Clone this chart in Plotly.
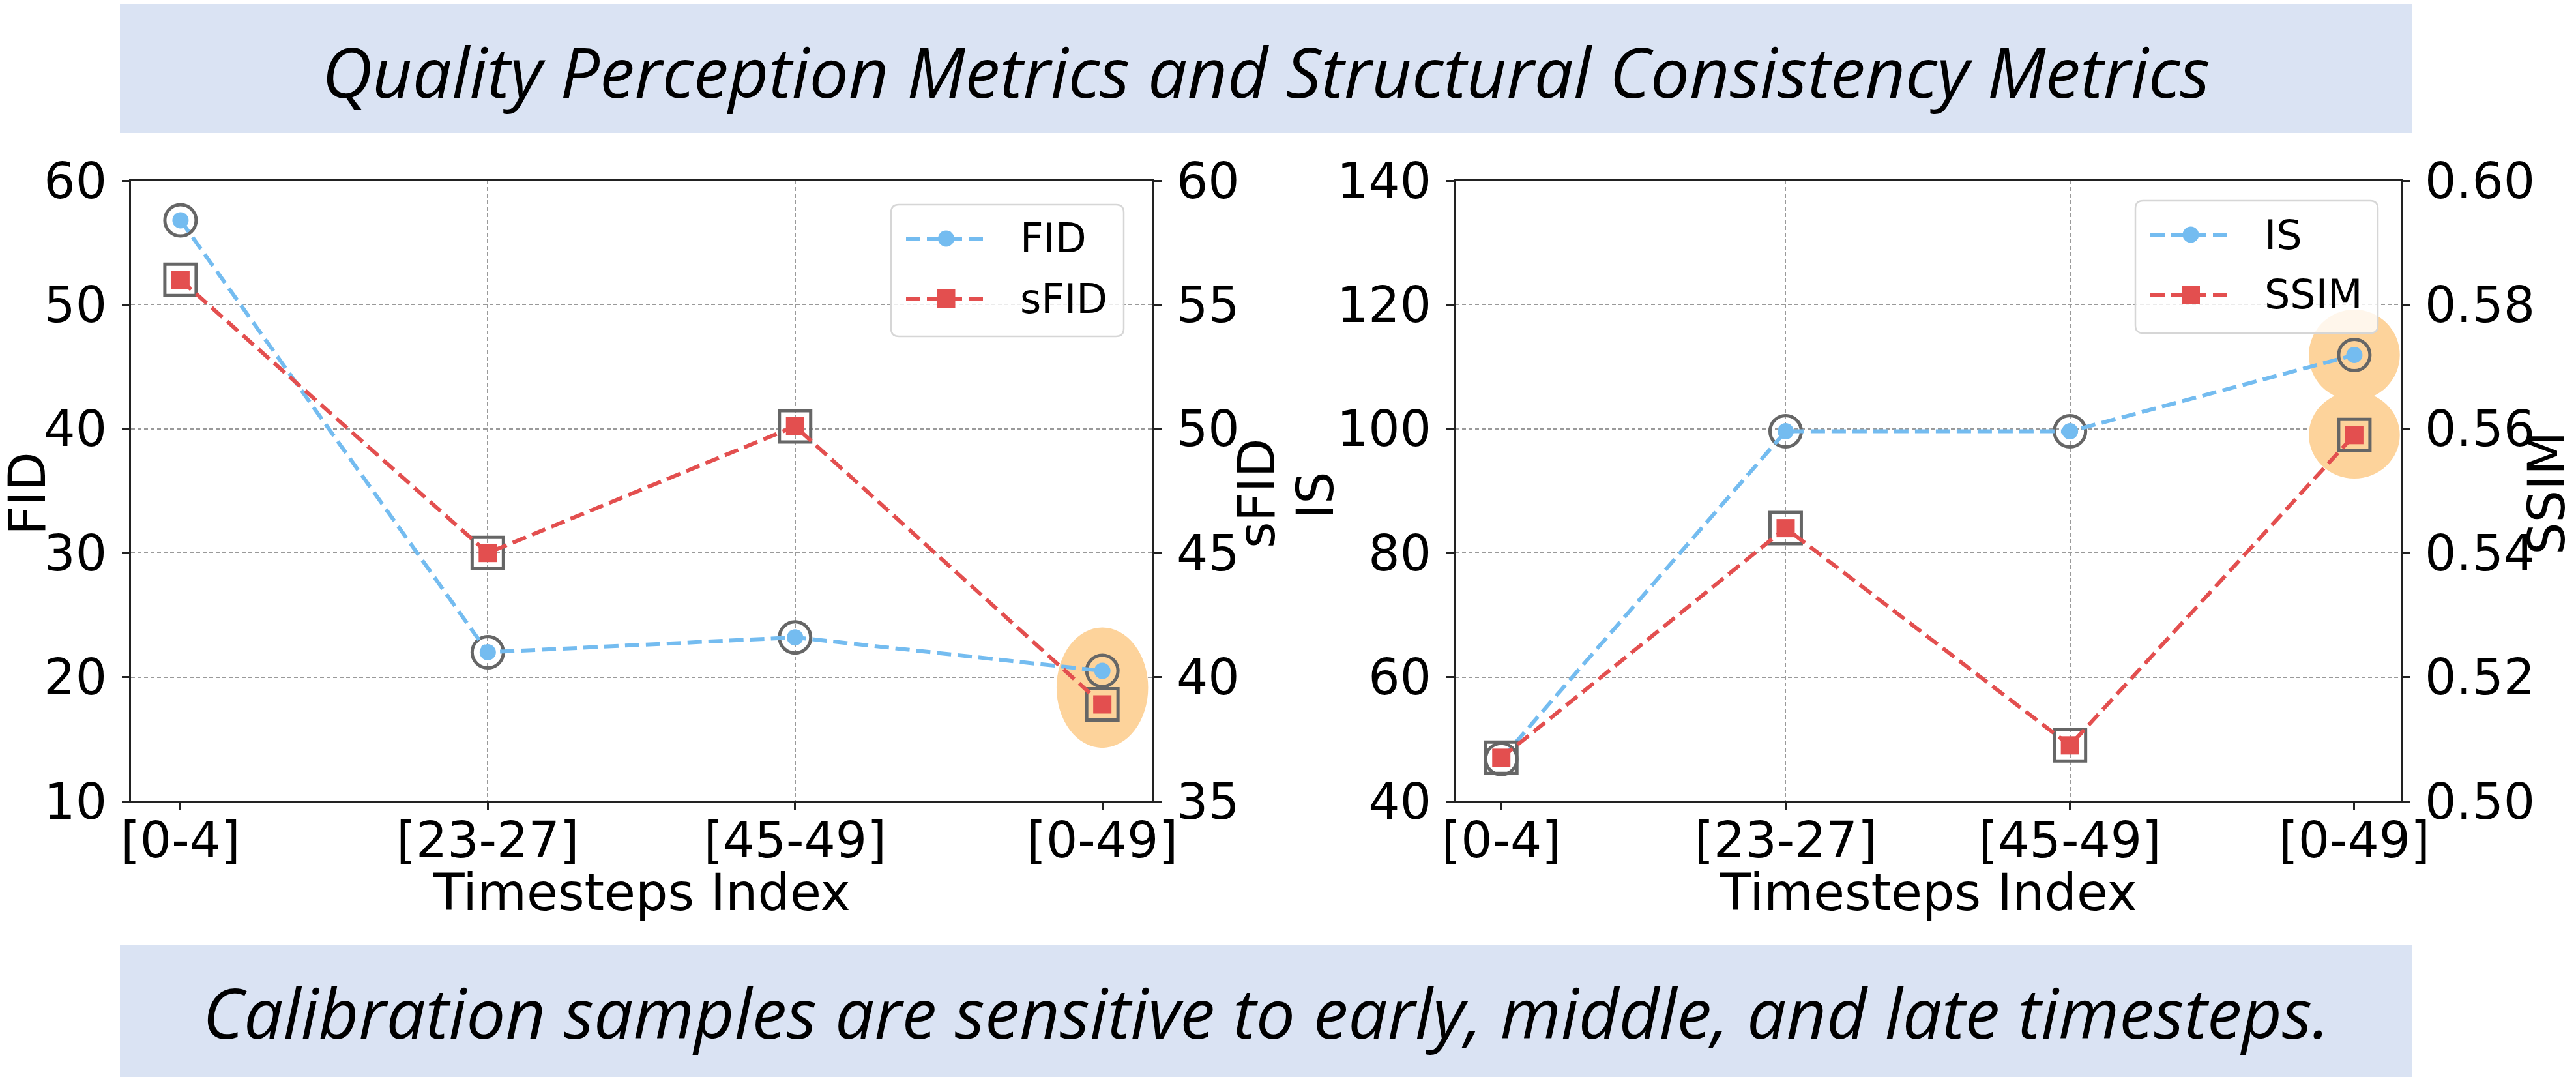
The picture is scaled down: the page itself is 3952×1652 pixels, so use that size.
import plotly.graph_objects as go

# ---------------- data ----------------
categories = ["[0-4]", "[23-27]", "[45-49]", "[0-49]"]
fid = [56.8, 22.0, 23.2, 20.5]
sfid = [56.0, 45.0, 50.1, 38.9]
is_score = [46.8, 99.6, 99.6, 111.9]
ssim = [0.507, 0.544, 0.509, 0.559]

fid_range = [10, 60]
sfid_range = [35, 60]
is_range = [40, 140]
ssim_range = [0.50, 0.60]

title_top = "Quality Perception Metrics and Structural Consistency Metrics"
title_bottom = "Calibration samples are sensitive to early, middle, and late timesteps."
x_title = "Timesteps Index"

# ---------------- styles ----------------
W, H = 3952, 1652
BLUE = "#74BCF0"
RED = "#E34F4F"
GRAY = "#666666"
ORANGE = "#FDD39B"
BANNER = "#DAE3F3"
GRID = "#9a9a9a"
AXC = "#222222"
FONT = "DejaVu Sans"
TICK_SIZE = 76
TITLE_SIZE = 78
LEG_SIZE = 62
DASH = "22px,10px"
LW = 6


def px(v):
    return v / W


def py(v):
    return 1 - v / H


def to_primary(v, sec, prim):
    return prim[0] + (v - sec[0]) / (sec[1] - sec[0]) * (prim[1] - prim[0])


x_idx = list(range(len(categories)))
last = x_idx[-1]

fig = go.Figure()


def add_series(y, name, color, symbol, size, ring, xaxis, yaxis):
    fig.add_trace(go.Scatter(
        x=x_idx, y=y, mode="markers",
        marker=dict(symbol=ring, size=48, color=GRAY, line=dict(color=GRAY, width=5)),
        xaxis=xaxis, yaxis=yaxis, showlegend=False, hoverinfo="skip"))
    fig.add_trace(go.Scatter(
        x=x_idx, y=y, mode="lines+markers", name=name,
        line=dict(color=color, width=LW, dash=DASH),
        marker=dict(symbol=symbol, size=size, color=color),
        xaxis=xaxis, yaxis=yaxis, showlegend=False))


add_series(fid, "FID", BLUE, "circle", 25, "circle-open", "x", "y")
add_series(sfid, "sFID", RED, "square", 28, "square-open", "x", "y2")
add_series(is_score, "IS", BLUE, "circle", 25, "circle-open", "x2", "y3")
add_series(ssim, "SSIM", RED, "square", 28, "square-open", "x2", "y4")

dom_y = [py(1229), py(277)]
common_ax = dict(
    showline=True, linecolor=AXC, linewidth=2.5, ticks="outside", ticklen=11,
    tickwidth=2.5, tickcolor=AXC, zeroline=False, automargin=False,
    tickfont=dict(family=FONT, size=TICK_SIZE, color="black"),
)
xcommon = dict(
    common_ax, tickvals=x_idx, ticktext=categories, range=[-0.161, 3.163],
    mirror=True, showgrid=False, ticklabelstandoff=-19,
    minor=dict(tickvals=x_idx[1:-1], showgrid=True, gridcolor=GRID,
               griddash="6px,4px", gridwidth=2, ticks=""),
)
ygrid = dict(showgrid=True, gridcolor=GRID, griddash="6px,4px", gridwidth=2)

fig.update_layout(
    template="none",
    width=W, height=H, autosize=False,
    margin=dict(l=0, r=0, t=0, b=0, pad=0, autoexpand=False),
    paper_bgcolor="white", plot_bgcolor="white",
    hovermode=False, showlegend=False,
    xaxis=dict(xcommon, domain=[px(201), px(1768)], anchor="y"),
    yaxis=dict(common_ax, **ygrid, domain=dom_y, range=fid_range, dtick=10,
               mirror=True, anchor="x", ticklabelstandoff=8),
    yaxis2=dict(common_ax, showgrid=False, overlaying="y", side="right",
                range=sfid_range, dtick=5, anchor="x", ticklabelstandoff=8),
    xaxis2=dict(xcommon, domain=[px(2233), px(3683)], anchor="y3"),
    yaxis3=dict(common_ax, **ygrid, domain=dom_y, range=is_range, dtick=20,
                mirror=True, anchor="x2", ticklabelstandoff=8),
    yaxis4=dict(common_ax, showgrid=False, overlaying="y3", side="right",
                range=ssim_range, dtick=0.02, tickformat=".2f", anchor="x2",
                ticklabelstandoff=8),
)

ssim_on_is = to_primary(ssim[last], ssim_range, is_range)
shapes = [
    dict(type="rect", xref="paper", yref="paper", x0=px(184), x1=px(3700),
         y0=py(204), y1=py(6), fillcolor=BANNER, line=dict(width=0), layer="below"),
    dict(type="rect", xref="paper", yref="paper", x0=px(184), x1=px(3700),
         y0=0, y1=py(1450), fillcolor=BANNER, line=dict(width=0), layer="below"),
    # highlight ellipses around the full-range [0-49] results
    dict(type="circle", xref="x", yref="y", x0=last - 0.149, x1=last + 0.149,
         y0=fid[last] - 6.2, y1=fid[last] + 3.5, fillcolor=ORANGE,
         line=dict(width=0), layer="between"),
    dict(type="circle", xref="x2", yref="y3", x0=last - 0.16, x1=last + 0.16,
         y0=is_score[last] - 7.3, y1=is_score[last] + 7.3, fillcolor=ORANGE,
         line=dict(width=0), layer="between"),
    dict(type="circle", xref="x2", yref="y3", x0=last - 0.16, x1=last + 0.16,
         y0=ssim_on_is - 7.0, y1=ssim_on_is + 7.0, fillcolor=ORANGE,
         line=dict(width=0), layer="between"),
]


def rounded_box(x0, y0, x1, y1, r):
    rx, ry = r / W, r / H
    X0, X1, Y0, Y1 = px(x0), px(x1), py(y1), py(y0)  # Y0 bottom, Y1 top
    return (f"M{X0 + rx},{Y1} L{X1 - rx},{Y1} Q{X1},{Y1} {X1},{Y1 - ry} "
            f"L{X1},{Y0 + ry} Q{X1},{Y0} {X1 - rx},{Y0} L{X0 + rx},{Y0} "
            f"Q{X0},{Y0} {X0},{Y0 + ry} L{X0},{Y1 - ry} Q{X0},{Y1} {X0 + rx},{Y1} Z")


annotations = []


def add_legend(box, entries):
    x0, y0, x1, y1 = box
    shapes.append(dict(type="path", xref="paper", yref="paper",
                       path=rounded_box(x0, y0, x1, y1, 12),
                       fillcolor="rgba(255,255,255,0.8)",
                       line=dict(color="#d6d6d6", width=2.5), layer="above"))
    for (name, color, symbol, lx0, lx1, ly, tx) in entries:
        shapes.append(dict(type="line", xref="paper", yref="paper",
                           x0=px(lx0), x1=px(lx1), y0=py(ly), y1=py(ly),
                           line=dict(color=color, width=LW, dash=DASH), layer="above"))
        cx = (lx0 + lx1) / 2
        s = 12.5 if symbol == "circle" else 14
        shapes.append(dict(type="circle" if symbol == "circle" else "rect",
                           xref="paper", yref="paper",
                           x0=px(cx - s), x1=px(cx + s), y0=py(ly + s), y1=py(ly - s),
                           fillcolor=color, line=dict(width=0), layer="above"))
        annotations.append(dict(text=name, x=px(tx), y=py(ly), xref="paper", yref="paper",
                                xanchor="left", yanchor="middle", showarrow=False,
                                font=dict(family=FONT, size=LEG_SIZE, color="black")))


add_legend((1367, 314, 1724, 516), [
    ("FID", BLUE, "circle", 1390, 1513, 366, 1563),
    ("sFID", RED, "square", 1390, 1513, 458, 1563),
])
add_legend((3276, 308, 3648, 511), [
    ("IS", BLUE, "circle", 3299, 3423, 360, 3472),
    ("SSIM", RED, "square", 3299, 3423, 452, 3472),
])

fig.update_layout(shapes=shapes)


def ann(text, x, y, size, angle=0, family=FONT, italic=False):
    return dict(text=text, x=px(x), y=py(y), xref="paper", yref="paper",
                xanchor="center", yanchor="middle", showarrow=False,
                textangle=angle,
                font=dict(family=family, size=size, color="black",
                          style="italic" if italic else "normal"))


annotations += [
    ann(title_top, 1942, 108, 107, family="Open Sans", italic=True),
    ann(title_bottom, 1942, 1551, 107, family="Open Sans", italic=True),
    ann(x_title, 984, 1369, TITLE_SIZE),
    ann(x_title, 2958, 1369, TITLE_SIZE),
    ann("FID", 42, 757, TITLE_SIZE, angle=-90),
    ann("sFID", 1928, 757, TITLE_SIZE, angle=-90),
    ann("IS", 2018, 760, TITLE_SIZE, angle=-90),
    ann("SSIM", 3907, 757, TITLE_SIZE, angle=-90),
]
fig.update_layout(annotations=annotations)

fig.write_html("out.html")
